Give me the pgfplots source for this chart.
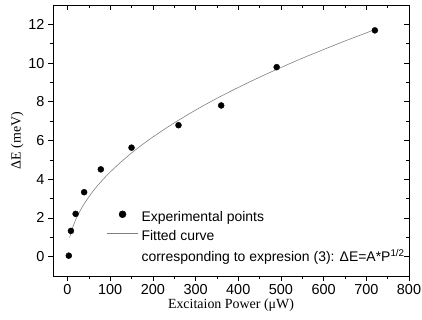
\documentclass[border=0pt]{standalone}
\usepackage{pgfplots}
\pgfplotsset{compat=1.18}
\usepackage{fontspec}
\setmainfont{Liberation Sans}
\newfontfamily\serifont{Liberation Serif}
\begin{document}
\begin{tikzpicture}
\useasboundingbox (-53bp,-44bp) rectangle (369bp,276bp);
\pgfplotsset{
  common/.style={
    at={(0,0)}, anchor=south west,
    scale only axis, width=356bp, height=271bp,
    xmin=-34, xmax=800, ymin=-1, ymax=13,
    xtick={0,100,...,800}, ytick={0,2,...,12},
    minor x tick num=1, minor y tick num=1,
    axis line style={line width=0.8pt},
    major tick length=5bp, minor tick length=3bp,
    every tick/.style={line width=0.7pt, black},
  }
}
\begin{axis}[common,
  tick align=outside, xtick pos=left, ytick pos=left,
  tick label style={font=\fontsize{14.5}{16}\selectfont},
  /pgf/number format/assume math mode=true,
  xlabel={\serifont\fontsize{14}{16}\selectfont Excitaion Power (μW)},
  ylabel={\serifont\fontsize{14}{16}\selectfont ΔE (meV)},
  xlabel style={yshift=3bp},
  ylabel style={yshift=-2bp},
  legend style={draw=none, fill=none, at={(0.142,0.255)}, anchor=north west,
    font=\fontsize{14}{16}\selectfont, row sep=4bp,
    nodes={inner sep=1.5bp}},
  legend cell align=left,
]
\addplot[only marks, mark=*, mark size=3bp, black,
  legend image code/.code={\path[draw=none,fill=none] (0,-2bp) rectangle (33bp,8bp);
    \fill[black] (15.5bp,2.8bp) circle (3.5bp);}]
  coordinates {(3,0.05) (8,1.33) (19,2.21) (39,3.33) (78,4.51)
    (150,5.63) (260,6.79) (360,7.81) (490,9.79) (720,11.69)};
\addlegendentry{Experimental points}
\addplot[gray, line width=0.6pt, smooth,
  legend image code/.code={\path[draw=none,fill=none] (0,-2bp) rectangle (33bp,8bp);
    \draw[gray, line width=0.6pt] (0,3.5bp) -- (31bp,3.5bp);}]
  coordinates {(5,0.98) (10,1.38) (20,1.95) (30,2.39) (40,2.76) (60,3.39)
    (80,3.91) (100,4.37) (130,4.98) (160,5.53) (200,6.18) (250,6.91)
    (300,7.57) (350,8.18) (400,8.74) (450,9.27) (500,9.77) (550,10.25)
    (600,10.70) (650,11.14) (700,11.56) (720,11.73)};
\addlegendentry{Fitted curve}
\addlegendimage{empty legend}
\addlegendentry{\rule{0pt}{11bp}corresponding to expresion (3): ΔE=A*P\textsuperscript{1/2}}
\end{axis}
\begin{axis}[common, tick align=inside, xtick pos=right, ytick pos=right,
  xticklabels={}, yticklabels={}]
\end{axis}
\end{tikzpicture}
\end{document}
